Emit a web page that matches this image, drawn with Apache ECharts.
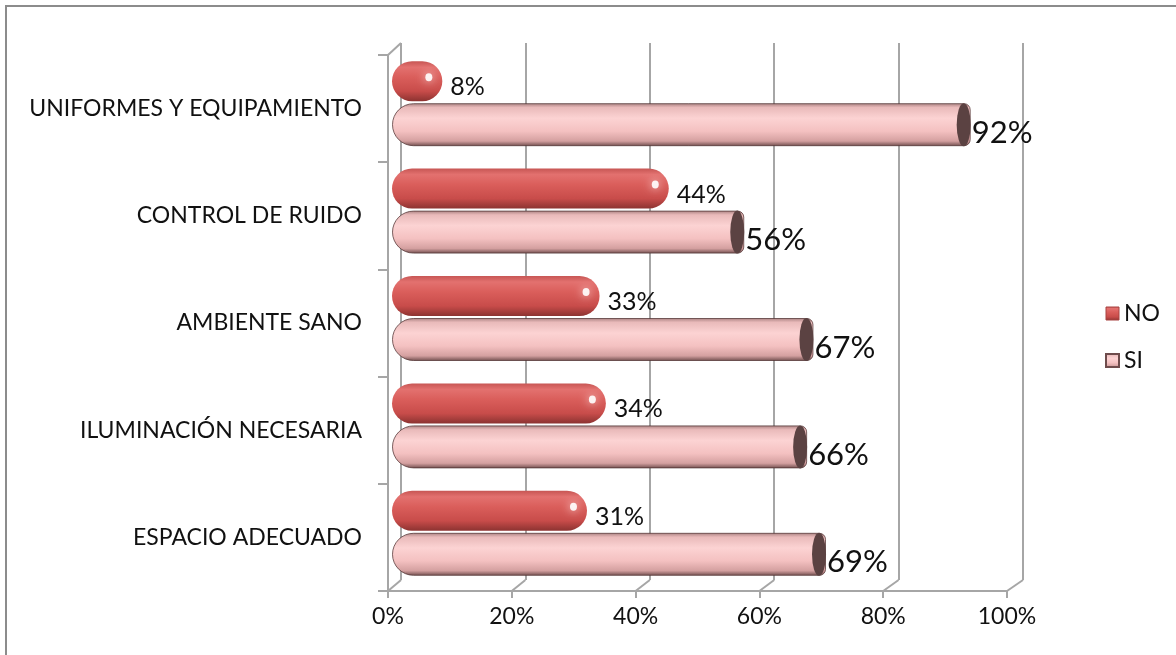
<!DOCTYPE html>
<html>
<head>
<meta charset="utf-8">
<script src="https://cdn.jsdelivr.net/npm/echarts@6/dist/echarts.min.js"></script>
<style>
  html, body { margin: 0; padding: 0; background: #fff; }
  #chart { width: 1176px; height: 655px; }
</style>
</head>
<body>
<div id="chart"></div>
<script>
const categories = ['ESPACIO ADECUADO', 'ILUMINACIÓN NECESARIA', 'AMBIENTE SANO', 'CONTROL DE RUIDO', 'UNIFORMES Y EQUIPAMIENTO'];
const noValues = [31, 34, 33, 44, 8];
const siValues = [69, 66, 67, 56, 92];
const axisMin = 0, axisMax = 100, axisStep = 20;

const FONT = 'Lato, "Open Sans", sans-serif';
const GRID_COLOR = '#a6a6a6';

const gradNO = new echarts.graphic.LinearGradient(0, 0, 0, 1, [
  { offset: 0, color: '#c75654' },
  { offset: 0.15, color: '#e3716f' },
  { offset: 0.4, color: '#da5e5b' },
  { offset: 0.75, color: '#c84c4a' },
  { offset: 1, color: '#8c3331' }
]);
const gradSI = new echarts.graphic.LinearGradient(0, 0, 0, 1, [
  { offset: 0, color: '#a88080' },
  { offset: 0.1, color: '#e9baba' },
  { offset: 0.35, color: '#fcd3d3' },
  { offset: 0.65, color: '#f4c1c1' },
  { offset: 0.88, color: '#d4a0a0' },
  { offset: 1, color: '#6e4c4c' }
]);

const chart = echarts.init(document.getElementById('chart'), null, { renderer: 'canvas' });

const option = {
  animation: false,
  backgroundColor: '#fff',
  legend: {
    orient: 'vertical',
    left: 1100,
    top: 297,
    icon: 'rect',
    itemWidth: 13,
    itemHeight: 13,
    itemGap: 24,
    data: [
      { name: 'NO', itemStyle: { borderColor: '#a84240', borderWidth: 1 } },
      { name: 'SI', itemStyle: { borderColor: '#6e4c4c', borderWidth: 2 } }
    ],
    textStyle: { fontFamily: FONT, fontSize: 23, color: '#111' }
  },
  grid: [
    { left: 401, right: 153, top: 43, bottom: 75 },   // back wall
    { left: 388, right: 169, top: 55, bottom: 64 },   // front plane
    { left: 392, right: 155, top: 50, bottom: 68 }    // bars
  ],
  xAxis: [
    { gridIndex: 0, type: 'value', min: axisMin, max: axisMax, interval: axisStep,
      axisLine: { show: false }, axisTick: { show: false }, axisLabel: { show: false },
      splitLine: { show: true, lineStyle: { color: GRID_COLOR, width: 2 } } },
    { gridIndex: 1, type: 'value', min: axisMin, max: axisMax, interval: axisStep,
      axisLine: { show: true, lineStyle: { color: GRID_COLOR, width: 2 } },
      axisTick: { show: true, length: 7, lineStyle: { color: GRID_COLOR, width: 2 } },
      splitLine: { show: false },
      axisLabel: { formatter: '{value}%', fontFamily: FONT, fontSize: 23, color: '#111', margin: 14 } },
    { gridIndex: 2, type: 'value', min: axisMin, max: axisMax, show: false, splitLine: { show: false } }
  ],
  yAxis: [
    { gridIndex: 0, type: 'category', data: categories, show: false },
    { gridIndex: 1, type: 'category', data: categories,
      axisLine: { show: true, lineStyle: { color: GRID_COLOR, width: 2 } },
      axisTick: { show: true, length: 10, lineStyle: { color: GRID_COLOR, width: 2 } },
      axisLabel: { fontFamily: FONT, fontSize: 23, color: '#111', margin: 26 } },
    { gridIndex: 2, type: 'category', data: categories, show: false }
  ],
  series: [
    { name: 'NO', type: 'bar', xAxisIndex: 2, yAxisIndex: 2, data: noValues,
      barWidth: 40, barGap: '5%',
      itemStyle: { color: gradNO, borderRadius: 20 },
      label: { show: true, position: 'right', distance: 8, offset: [0, 6], formatter: '{c}%',
               fontFamily: FONT, fontSize: 25, color: '#111' },
      z: 2 },
    { name: 'SI', type: 'bar', xAxisIndex: 2, yAxisIndex: 2, data: siValues,
      barWidth: 43, barGap: '5%',
      itemStyle: { color: gradSI, borderRadius: [21, 6, 6, 21], borderColor: 'rgba(80,50,50,0.75)', borderWidth: 1 },
      label: { show: true, position: 'right', distance: 1, offset: [0, 8], formatter: '{c}%',
               fontFamily: FONT, fontSize: 31, color: '#111' },
      z: 2 },
    { name: 'NOhl', type: 'pictorialBar', xAxisIndex: 2, yAxisIndex: 2, data: noValues,
      barWidth: 40, barGap: '5%', symbol: 'circle', symbolSize: [7, 8], symbolPosition: 'end',
      symbolOffset: [-10, -4], silent: true, legendHoverLink: false,
      itemStyle: { color: 'rgba(255,255,255,0.9)', shadowBlur: 10, shadowColor: 'rgba(255,235,235,1)' }, z: 4 },
    { name: 'SIcap', type: 'pictorialBar', xAxisIndex: 2, yAxisIndex: 2, data: siValues,
      barWidth: 43, barGap: '5%', symbol: 'circle', symbolSize: [14, 43], symbolPosition: 'end',
      silent: true, legendHoverLink: false,
      itemStyle: { color: '#5b4242' }, z: 4 }
  ]
};
chart.setOption(option);

// 3D floor/wall connectors, computed from the axes
function gridRect(i) { return chart.getModel().getComponent('grid', i).coordinateSystem.getRect(); }
const back = gridRect(0), front = gridRect(1);
const graphics = [{
  type: 'rect', silent: true,
  shape: { x: 6, y: 6, width: 1190, height: 670 },
  style: { fill: 'none', stroke: '#8c8c8c', lineWidth: 2 }
}];
const lineStyle = { stroke: GRID_COLOR, lineWidth: 2 };
for (let v = axisMin; v <= axisMax; v += axisStep) {
  const bx = chart.convertToPixel({ xAxisIndex: 0 }, v);
  const fx = chart.convertToPixel({ xAxisIndex: 1 }, v);
  graphics.push({ type: 'line', silent: true, shape: { x1: fx, y1: front.y + front.height, x2: bx, y2: back.y + back.height }, style: lineStyle });
}
{
  const bx = chart.convertToPixel({ xAxisIndex: 0 }, axisMin);
  const fx = chart.convertToPixel({ xAxisIndex: 1 }, axisMin);
  graphics.push({ type: 'line', silent: true, shape: { x1: fx, y1: front.y, x2: bx, y2: back.y }, style: lineStyle });
}
chart.setOption({ graphic: graphics });
</script>
</body>
</html>
